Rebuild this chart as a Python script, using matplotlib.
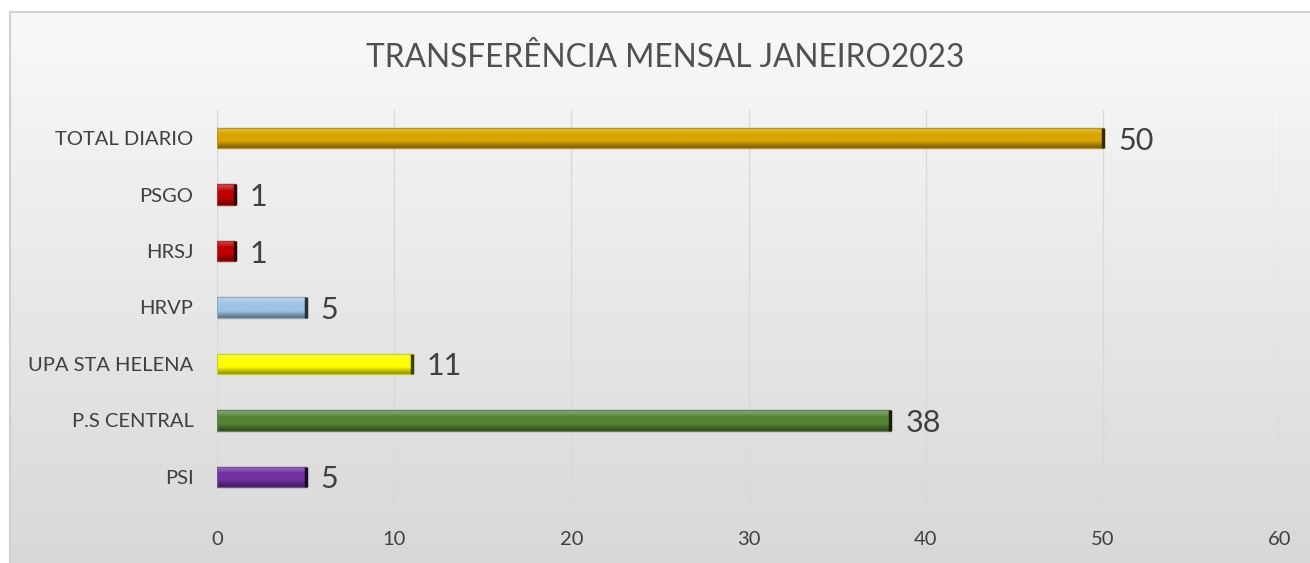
import numpy as np
import matplotlib.pyplot as plt
import matplotlib.colors as mcolors
from matplotlib.patches import Rectangle

plt.rcParams['font.family'] = ['Lato', 'DejaVu Sans']

categories = ['PSI', 'P.S CENTRAL', 'UPA STA HELENA', 'HRVP', 'HRSJ', 'PSGO', 'TOTAL DIARIO']
values = [5, 38, 11, 5, 1, 1, 50]
bar_colors = ['#7030a0', '#548235', '#ffff00', '#9dc3e6', '#c00000', '#c00000', '#d9a400']
title = 'TRANSFERÊNCIA MENSAL JANEIRO2023'
xticks = [0, 10, 20, 30, 40, 50, 60]

fig = plt.figure(figsize=(13.1, 5.63), dpi=100)
fig.patch.set_facecolor('white')

# chart area background with soft vertical gradient
bg = fig.add_axes([0, 0, 1, 1], zorder=0)
bg.set_xlim(0, 1)
bg.set_ylim(0, 1)
bg.axis('off')
grad = np.linspace(0, 1, 256).reshape(-1, 1)
cmap_bg = mcolors.LinearSegmentedColormap.from_list('bg', ['#f9f9f9', '#d8d8d8'])
x0, y0 = 10 / 1310, 0.0
x1, y1 = 1.0, 1 - 12 / 563
bg.imshow(grad, cmap=cmap_bg, extent=[x0, x1, y0, y1], aspect='auto', origin='upper')
bg.add_patch(Rectangle((x0, y0 - 0.01), x1 - x0 + 0.01, y1 - y0 + 0.01, fill=False,
                       edgecolor='#d0d0d0', linewidth=1.5))

ax = fig.add_axes([217 / 1310, 1 - 505 / 563, (1280 - 217) / 1310, (505 - 110) / 563], zorder=1)
ax.patch.set_alpha(0)

y = np.arange(len(categories))
bars = ax.barh(y, values, height=0.36, color=bar_colors, zorder=3)

# fake bevel: vertical gradient clipped to each bar
for b, c in zip(bars, bar_colors):
    base = np.array(mcolors.to_rgb(c))
    light = base + (1 - base) * 0.35
    dark = base * 0.55
    cm = mcolors.LinearSegmentedColormap.from_list('g', [light, base, base, dark])
    bx, by, bw, bh = b.get_x(), b.get_y(), b.get_width(), b.get_height()
    im = ax.imshow(np.linspace(0, 1, 64).reshape(-1, 1), cmap=cm, aspect='auto',
                   extent=[bx, bx + bw, by, by + bh], origin='upper', zorder=4)
    im.set_clip_path(b)
    b.set_edgecolor(base * 0.6 + 0.2)
    b.set_linewidth(1)
    b.set_zorder(5)
    b.set_facecolor('none')
    ax.plot([bx + bw, bx + bw], [by, by + bh], color=base * 0.25, lw=2.5, zorder=6,
            solid_capstyle='butt')

for yi, v in zip(y, values):
    ax.text(v + 0.85, yi, str(v), va='center_baseline', ha='left', fontsize=22,
            color='#404040', zorder=7)

ax.set_xlim(0, 60)
ax.set_ylim(-0.5, len(categories) - 0.5)
ax.set_xticks(xticks)
ax.set_yticks(y)
ax.set_yticklabels(categories)
ax.tick_params(axis='both', length=0, labelsize=14.5, labelcolor='#404040')
ax.tick_params(axis='x', pad=19)
ax.tick_params(axis='y', pad=17)
ax.grid(axis='x', color='#d9d9d9', linewidth=1, zorder=0)
ax.set_axisbelow(True)
for s in ax.spines.values():
    s.set_visible(False)

fig.text(665 / 1310, 1 - 58 / 563, title, ha='center', va='center', fontsize=22.8,
         color='#505050')

fig.savefig('out.png', dpi=100)
